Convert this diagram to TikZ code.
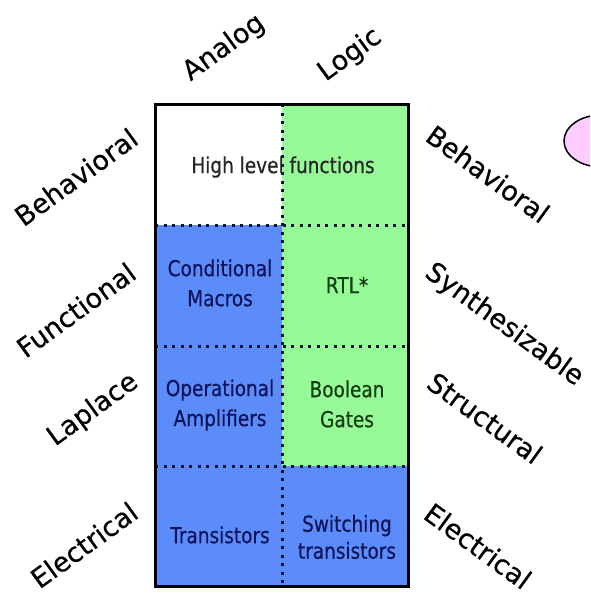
\documentclass[tikz,border=0pt]{standalone}
\usepackage{fontspec}
\usetikzlibrary{shapes.geometric}
\setmainfont{DejaVu Sans}
\newfontfamily\cellfont[FakeStretch=0.84,FakeBold=0.5]{DejaVu Sans}
\newfontfamily\labfont[FakeBold=0.4]{DejaVu Sans}
\definecolor{cblue}{RGB}{92,140,250}
\definecolor{cgreen}{RGB}{150,250,150}
\definecolor{cnavy}{RGB}{15,20,90}
\definecolor{cdkgreen}{RGB}{20,60,20}
\definecolor{cpink}{RGB}{255,204,255}
\definecolor{cdot}{RGB}{15,15,60}
\begin{document}
\begin{tikzpicture}[x=1pt,y=-1pt,
  lab/.style={font=\labfont\fontsize{27}{27}\selectfont, inner sep=0pt},
  lleft/.style={lab, rotate=36},
  lright/.style={lab, rotate=-36},
  cell/.style={font=\cellfont\fontsize{22}{30}\selectfont, align=center, inner sep=0pt},
  bluetext/.style={cell, text=cnavy},
  greentext/.style={cell, text=cdkgreen},
  dotline/.style={cdot, line width=3pt, dash pattern=on 3pt off 5.5pt},
  frame/.style={draw=black, line width=3pt}]
\useasboundingbox (0,0) rectangle (590,598);
\clip (0,0) rectangle (590,598);
% cell fills
\fill[white]  (155,104) rectangle (282,225);
\fill[cgreen] (282,104) rectangle (408,466);
\fill[cblue]  (155,225) rectangle (282,586);
\fill[cblue]  (282,466) rectangle (408,586);
% cell texts
\node[cell, text=black!85] (hl) at (283,167) {High level functions};
\node[bluetext] (cm) at (220,283) {Conditional\\Macros};
\node[greentext] (rtl) at (347,285) {RTL*};
\node[bluetext] (oa) at (220,405) {Operational\\Amplifiers};
\node[greentext] (bg) at (347,404) {Boolean\\Gates};
\node[bluetext] (tr) at (220,535) {Transistors};
\node[bluetext, font=\cellfont\fontsize{22}{27}\selectfont] (st) at (347,537) {Switching\\transistors};
% dotted dividers
\draw[dotline] (155,225) -- (408,225);
\draw[dotline] (155,346) -- (408,346);
\draw[dotline] (155,466) -- (408,466);
\draw[dotline] (282,104) -- (282,586);
% frame
\draw[frame] (155,104) rectangle (408,586);
% top labels
\node[lleft] (analog) at (224,48) {Analog};
\node[lleft] (logic) at (350,55) {Logic};
% left labels
\node[lleft] (lbeh) at (76,177) {Behavioral};
\node[lleft] (lfun) at (76,310) {Functional};
\node[lleft] (llap) at (93,410) {Laplace};
\node[lleft] (lele) at (84,545) {Electrical};
% right labels
\node[lright] (rbeh) at (488,174) {Behavioral};
\node[lright] (rsyn) at (504,325) {Synthesizable};
\node[lright] (rstr) at (485,418) {Structural};
\node[lright] (rele) at (478,546) {Electrical};
% pink ellipse (cut off at right edge)
\node[draw=black, line width=1.5pt, fill=cpink, ellipse, minimum width=74pt, minimum height=52pt, inner sep=0pt] (pink) at (601,141) {};
\end{tikzpicture}
\end{document}
